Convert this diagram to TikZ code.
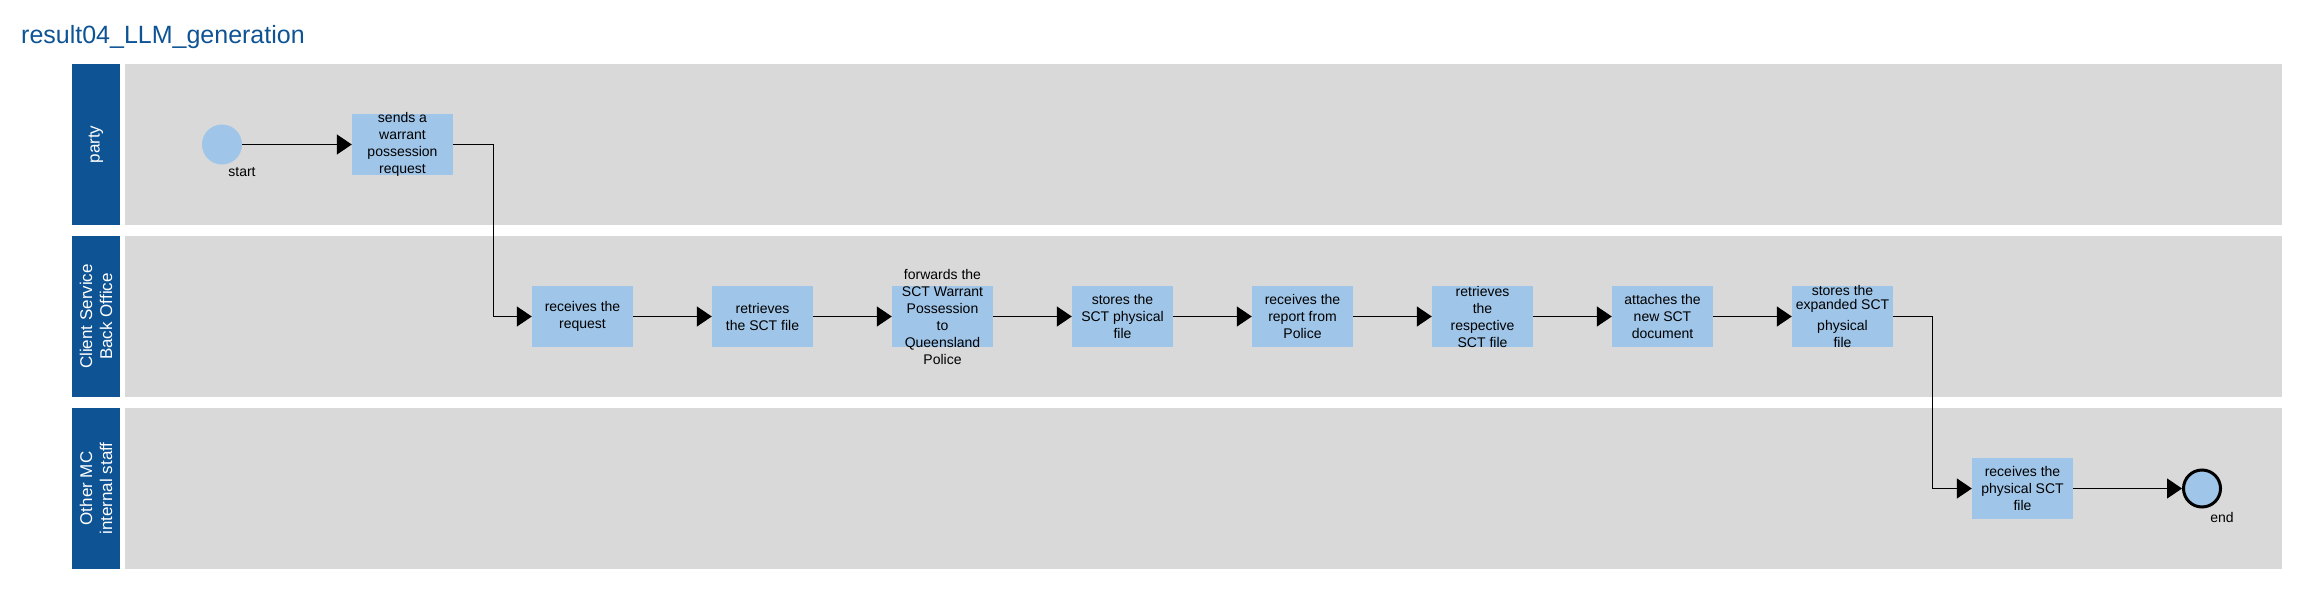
\documentclass[tikz,border=0pt]{standalone}
\usepackage{fontspec}
\setmainfont{Liberation Sans}
\usetikzlibrary{arrows.meta}
\definecolor{lanehead}{HTML}{0E5394}
\definecolor{lanebody}{HTML}{D9D9D9}
\definecolor{taskblue}{HTML}{9FC5E8}
\tikzset{
  lanetitle/.style={fill=lanehead, text=white, rotate=90, minimum width=161pt,
    minimum height=48pt, inner sep=0pt, align=center, font=\fontsize{17}{20}\selectfont},
  task/.style={fill=taskblue, minimum width=101pt, minimum height=61pt, inner sep=0pt},
  tasktext/.style={inner sep=0pt, align=center, font=\fontsize{14}{17}\selectfont},
  startev/.style={circle, fill=taskblue, minimum size=40pt, inner sep=0pt},
  endev/.style={circle, fill=taskblue, draw=black, line width=3pt, minimum size=37pt, inner sep=0pt},
  evtext/.style={inner sep=0pt, font=\fontsize{14}{17}\selectfont},
  flow/.style={-{Triangle[length=15pt,width=20pt]}, line width=1.2pt}
}

\begin{document}
\begin{tikzpicture}[x=1pt, y=-1pt]
      \useasboundingbox (0,0) rectangle (2299,610);

      \node[anchor=base west, inner sep=0pt, text=lanehead, font=\fontsize{25}{30}\selectfont]
        (title) at (21,44) {result04\_LLM\_generation};

      % lanes
      \fill[lanebody] (125,64) rectangle (2282,225);
      \fill[lanebody] (125,236) rectangle (2282,397);
      \fill[lanebody] (125,408) rectangle (2282,569);
      \node[lanetitle] (party) at (96,144.5) {party};
      \node[lanetitle] (backoffice) at (96,316.5) {Client Service\\Back Office};
      \node[lanetitle] (otherstaff) at (96,488.5) {Other MC\\internal staff};

      % events and tasks
      \node[startev] (start) at (222,144.5) {};
      \node[evtext] (startlbl) at (242,172) {start};
      \node[task, label={[tasktext]center:{sends a\\warrant\\possession\\request}}] (send) at (402.5,144.5) {};
      \node[task, label={[tasktext]center:{receives the\\request}}] (recvreq) at (582.5,316.5) {};
      \node[task, label={[tasktext]center:{retrieves\\the SCT file}}] (getfile) at (762.5,316.5) {};
      \node[task, label={[tasktext]center:{forwards the\\SCT Warrant\\Possession\\to\\Queensland\\Police}}] (forward) at (942.5,316.5) {};
      \node[task, label={[tasktext]center:{stores the\\SCT physical\\file}}] (store) at (1122.5,316.5) {};
      \node[task, label={[tasktext]center:{receives the\\report from\\Police}}] (report) at (1302.5,316.5) {};
      \node[task, label={[tasktext]center:{retrieves\\the\\respective\\SCT file}}] (getresp) at (1482.5,316.5) {};
      \node[task, label={[tasktext]center:{attaches the\\new SCT\\document}}] (attach) at (1662.5,316.5) {};
      \node[task, label={[tasktext]center:{stores the\\[-3pt]expanded SCT\\[4pt]physical\\file}}] (storeexp) at (1842.5,316.5) {};
      \node[task, label={[tasktext]center:{receives the\\physical SCT\\file}}] (recvfile) at (2022.5,488.5) {};
      \node[endev] (endev) at (2202,488.5) {};
      \node[evtext] (endlbl) at (2222,517) {end};

      % flows
      \draw[flow] (start.east) -- (send.west);
      \draw[flow] (send.east) -- ++(40,0) |- (recvreq.west);
      \draw[flow] (recvreq.east) -- (getfile.west);
      \draw[flow] (getfile.east) -- (forward.west);
      \draw[flow] (forward.east) -- (store.west);
      \draw[flow] (store.east) -- (report.west);
      \draw[flow] (report.east) -- (getresp.west);
      \draw[flow] (getresp.east) -- (attach.west);
      \draw[flow] (attach.east) -- (storeexp.west);
      \draw[flow] (storeexp.east) -- ++(39,0) |- (recvfile.west);
      \draw[flow] (recvfile.east) -- (endev.west);
    \end{tikzpicture}
\end{document}
